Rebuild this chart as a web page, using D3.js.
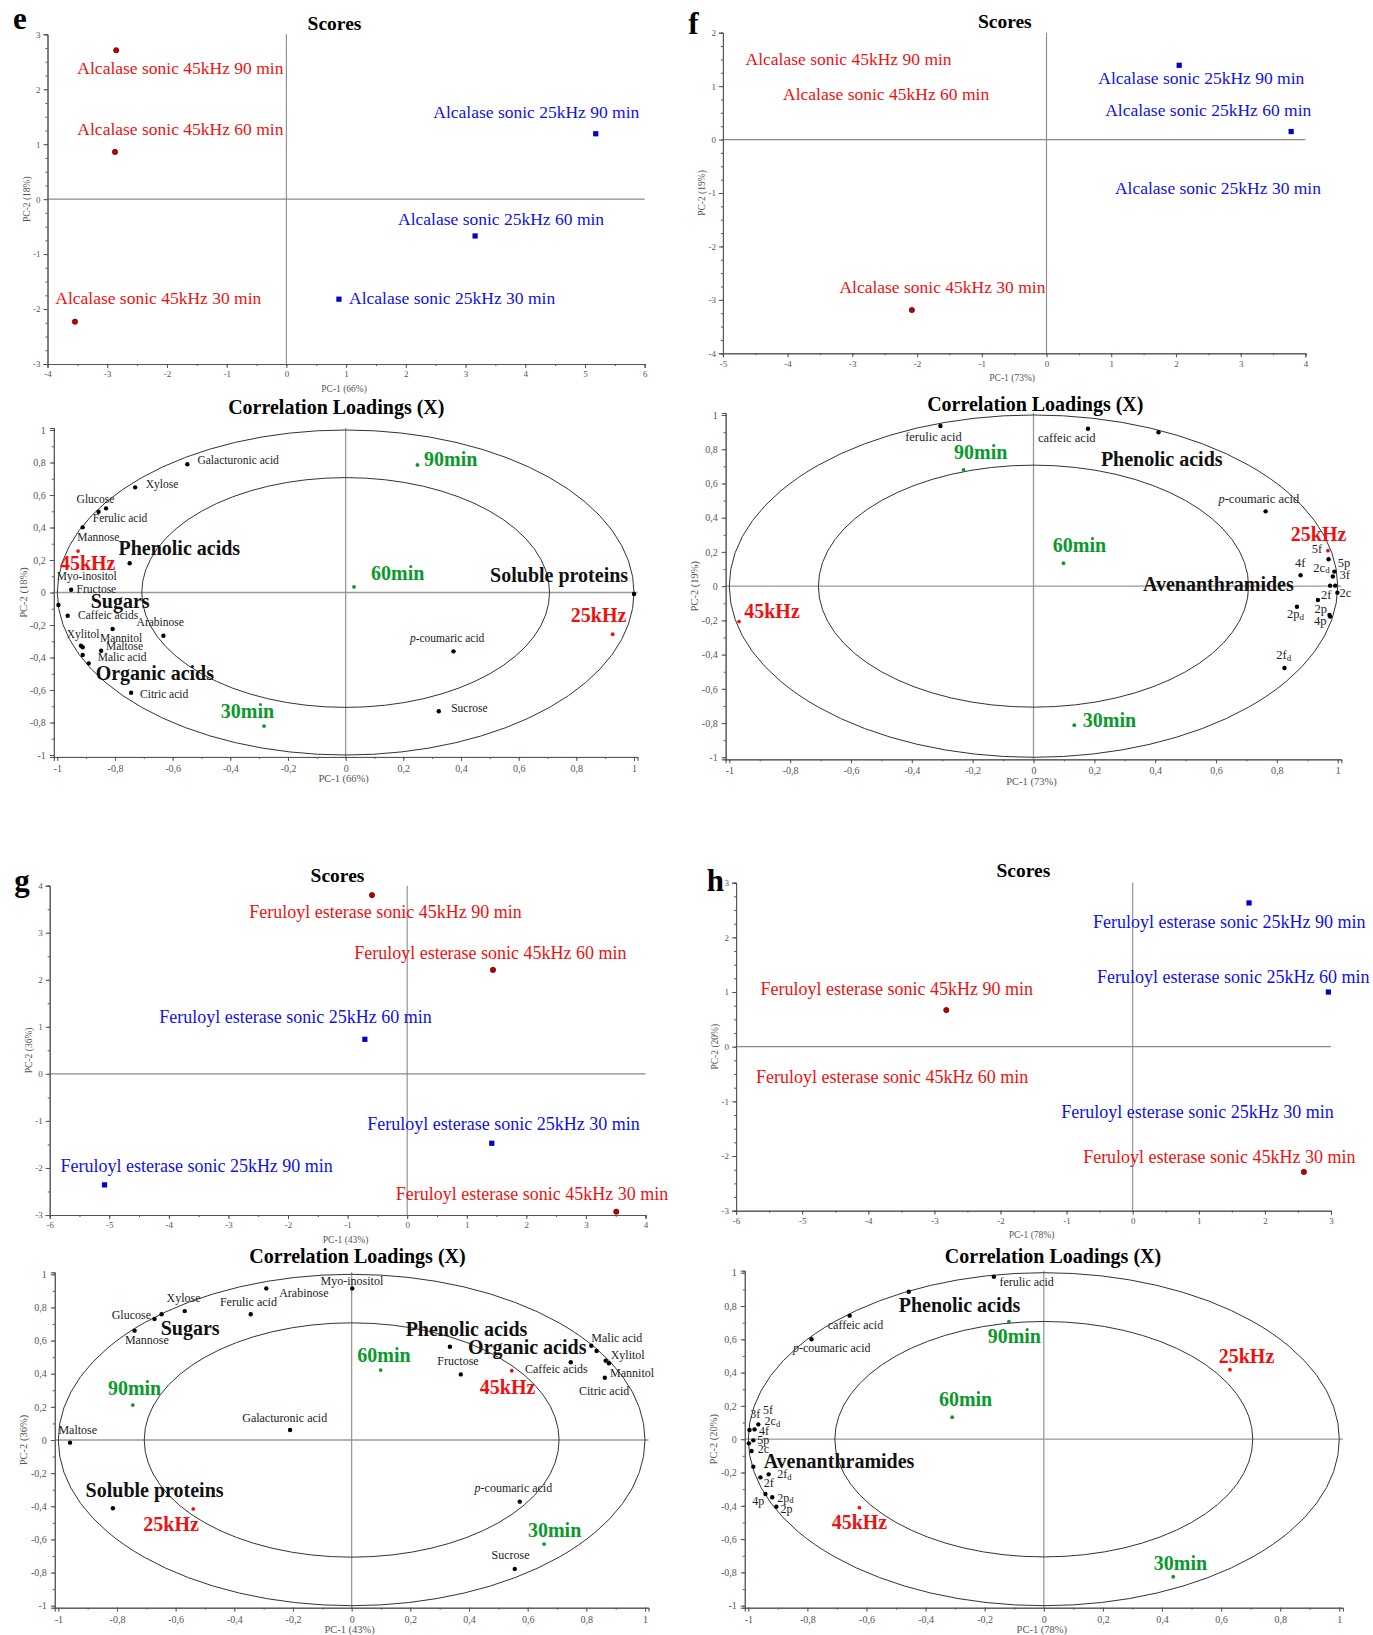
<!DOCTYPE html>
<html lang="en">
<head>
<meta charset="UTF-8">
<title>PCA scores and correlation loadings (e-h)</title>
<script src="https://d3js.org/d3.v7.min.js"></script>
<style>
  body { margin: 0; background: #fff; }
  svg { display: block; font-family: "Liberation Serif", "Times New Roman", serif; }
</style>
</head>
<body>
<svg id="fig" width="1373" height="1635"></svg>
<script>
// ---------- Scores: [sample, PC-1, PC-2] (null = marker not visible) ----------
const scoresE = [
  ["Alcalase sonic 45kHz 90 min", -2.85, 2.71],
  ["Alcalase sonic 45kHz 60 min", -2.87, 0.86],
  ["Alcalase sonic 45kHz 30 min", -3.54, -2.23],
  ["Alcalase sonic 25kHz 90 min", 5.18, 1.19],
  ["Alcalase sonic 25kHz 60 min", 3.16, -0.67],
  ["Alcalase sonic 25kHz 30 min", 0.88, -1.82]
];
const scoresF = [
  ["Alcalase sonic 45kHz 90 min", null, null],
  ["Alcalase sonic 45kHz 60 min", null, null],
  ["Alcalase sonic 45kHz 30 min", -2.08, -3.19],
  ["Alcalase sonic 25kHz 90 min", 2.05, 1.39],
  ["Alcalase sonic 25kHz 60 min", 3.78, 0.15],
  ["Alcalase sonic 25kHz 30 min", null, null]
];
const scoresG = [
  ["Feruloyl esterase sonic 45kHz 90 min", -0.59, 3.80],
  ["Feruloyl esterase sonic 45kHz 60 min", 1.44, 2.21],
  ["Feruloyl esterase sonic 45kHz 30 min", 3.51, -2.93],
  ["Feruloyl esterase sonic 25kHz 60 min", -0.71, 0.735],
  ["Feruloyl esterase sonic 25kHz 30 min", 1.42, -1.475],
  ["Feruloyl esterase sonic 25kHz 90 min", -5.08, -2.36]
];
const scoresH = [
  ["Feruloyl esterase sonic 25kHz 90 min", 1.76, 2.63],
  ["Feruloyl esterase sonic 25kHz 60 min", 2.96, 1.00],
  ["Feruloyl esterase sonic 45kHz 90 min", -2.82, 0.67],
  ["Feruloyl esterase sonic 45kHz 60 min", null, null],
  ["Feruloyl esterase sonic 25kHz 30 min", null, null],
  ["Feruloyl esterase sonic 45kHz 30 min", 2.59, -2.29]
];
// label anchors (data units, same order as the samples)
const scoresELabelAt = [[-3.5, 2.28], [-3.5, 1.17], [-3.87, -1.90], [2.46, 1.47], [1.87, -0.47], [1.05, -1.91]];
const scoresFLabelAt = [[-4.65, 1.39], [-4.07, 0.74], [-3.2, -2.88], [0.80, 1.04], [0.907, 0.44], [1.057, -1.02]];
const scoresGLabelAt = [[-2.65, 3.31], [-0.89, 2.45], [-0.19, -2.68], [-4.16, 1.09], [-0.67, -1.19], [-5.82, -2.09]];
const scoresHLabelAt = [[-0.6, 2.18], [-0.54, 1.16], [-5.63, 0.94], [-5.70, -0.67], [-1.08, -1.31], [-0.75, -2.12]];

// ---------- Correlation loadings: variables [name, PC-1, PC-2] ----------
const loadVarsE = [
  ["Galacturonic acid", -0.549, 0.789], ["Xylose", -0.73, 0.647], ["Glucose", -0.831, 0.518],
  ["Ferulic acid", -0.857, 0.497], ["Mannose", -0.912, 0.401], ["Phenolic acids", -0.749, 0.18],
  ["Fructose", -0.952, 0.017], ["Myo-inositol", -0.996, -0.077], ["Caffeic acids", -0.964, -0.143],
  ["Mannitol", -0.808, -0.225], ["Arabinose", -0.632, -0.266], ["Xylitol", -0.918, -0.327],
  ["Xylitol b", -0.912, -0.337], ["Maltose", -0.848, -0.358], ["Malic acid", -0.912, -0.385],
  ["Organic acids", -0.891, -0.436], ["Citric acid", -0.744, -0.617],
  ["p-coumaric acid", 0.374, -0.362], ["Sucrose", 0.323, -0.731], ["Soluble proteins", 1.0, -0.009]
];
const loadVarsF = [
  ["ferulic acid", -0.306, 0.936], ["caffeic acid", 0.179, 0.92], ["Phenolic acids", 0.411, 0.899],
  ["p-coumaric acid", 0.763, 0.437], ["5f", 0.970, 0.157], ["4f", 0.878, 0.064],
  ["5p", 0.989, 0.085], ["3f", 0.984, 0.056], ["2cd", 0.975, 0.003], ["Avenanthramides", 0.992, 0.003],
  ["2c", 0.999, -0.038], ["2f", 0.935, -0.081], ["2pd", 0.866, -0.12], ["2p", 0.973, -0.168],
  ["4p", 0.975, -0.178], ["2fd", 0.825, -0.478]
];
const loadVarsG = [
  ["Myo-inositol", 0.002, 0.915], ["Arabinose", -0.291, 0.915], ["Ferulic acid", -0.344, 0.759],
  ["Xylose", -0.569, 0.778], ["Glucose", -0.648, 0.759], ["Sugars", -0.672, 0.73],
  ["Mannose", -0.74, 0.66], ["Maltose", -0.96, -0.016], ["Soluble proteins", -0.814, -0.412],
  ["Galacturonic acid", -0.21, 0.06], ["Phenolic acids", 0.335, 0.563], ["Fructose", 0.372, 0.396],
  ["Caffeic acids", 0.747, 0.469], ["Malic acid", 0.817, 0.569], ["Organic acids", 0.835, 0.537],
  ["Xylitol", 0.866, 0.479], ["Mannitol", 0.877, 0.463], ["Citric acid", 0.863, 0.376],
  ["p-coumaric acid", 0.573, -0.372], ["Sucrose", 0.556, -0.778]
];
const loadVarsH = [
  ["ferulic acid", -0.169, 0.976], ["Phenolic acids", -0.457, 0.886], ["caffeic acid", -0.657, 0.742],
  ["p-coumaric acid", -0.786, 0.6], ["2cd", -0.966, 0.089], ["4f", -0.979, 0.059],
  ["3f", -0.996, 0.055], ["5p", -0.983, -0.007], ["5f", -0.998, -0.025], ["2c", -0.989, -0.071],
  ["Avenanthramides", -0.983, -0.165], ["2fd", -0.931, -0.211], ["2f", -0.959, -0.229],
  ["4p", -0.942, -0.329], ["2pd", -0.919, -0.349], ["2p", -0.905, -0.405]
];
// design variables (frequency / time)
const loadDesignE = [["45kHz", -0.928, 0.255], ["25kHz", 0.926, -0.257], ["30min", -0.283, -0.822], ["60min", 0.029, 0.034], ["90min", 0.249, 0.785]];
const loadDesignF = [["45kHz", -0.968, -0.207], ["25kHz", 0.968, 0.207], ["30min", 0.134, -0.8125], ["60min", 0.0986, 0.134], ["90min", -0.23, 0.679]];
const loadDesignG = [["45kHz", 0.546, 0.418], ["25kHz", -0.54, -0.416], ["30min", 0.656, -0.628], ["60min", 0.099, 0.422], ["90min", -0.746, 0.211]];
const loadDesignH = [["45kHz", -0.624, -0.411], ["25kHz", 0.63, 0.417], ["30min", 0.438, -0.826], ["60min", -0.31, 0.132], ["90min", -0.118, 0.706]];

// text labels on the loadings plots [text, PC-1, PC-2, kind]  (s = small, b = group, d = design)
const loadLabelsE = [
  ["Galacturonic acid", -0.514, 0.79, "s"], ["Xylose", -0.693, 0.641, "s"], ["Glucose", -0.933, 0.553, "s"],
  ["Ferulic acid", -0.877, 0.434, "s"], ["Mannose", -0.931, 0.319, "s"], ["Myo-inositol", -1.002, 0.077, "s"],
  ["Fructose", -0.933, -0.003, "s"], ["Caffeic acids", -0.928, -0.163, "s"], ["Arabinose", -0.725, -0.204, "s"],
  ["Xylitol", -0.967, -0.278, "s"], ["Mannitol", -0.852, -0.302, "s"], ["Maltose", -0.831, -0.354, "s"],
  ["Malic acid", -0.86, -0.422, "s"], ["Citric acid", -0.713, -0.647, "s"], ["p-coumaric acid", 0.223, -0.307, "s"],
  ["Sucrose", 0.366, -0.737, "s"],
  ["Phenolic acids", -0.788, 0.231, "b"], ["Sugars", -0.884, -0.097, "b"], ["Organic acids", -0.867, -0.538, "b"],
  ["Soluble proteins", 0.501, 0.063, "b"],
  ["45kHz", -0.991, 0.138, "d"], ["25kHz", 0.781, -0.18, "d"], ["30min", -0.433, -0.77, "d"],
  ["60min", 0.088, 0.077, "d"], ["90min", 0.272, 0.78, "d"]
];
const loadLabelsF = [
  ["ferulic acid", -0.422, 0.85, "s"], ["caffeic acid", 0.0145, 0.844, "s"], ["p-coumaric acid", 0.608, 0.488, "s"],
  ["5f", 0.915, 0.196, "s"], ["4f", 0.86, 0.114, "s"], ["2c_d", 0.92, 0.085, "s"], ["5p", 1.0, 0.114, "s"],
  ["3f", 1.006, 0.04, "s"], ["2c", 1.006, -0.065, "s"], ["2f", 0.945, -0.077, "s"], ["2p", 0.924, -0.155, "s"],
  ["2p_d", 0.833, -0.188, "s"], ["4p", 0.922, -0.227, "s"], ["2f_d", 0.798, -0.427, "s"],
  ["Phenolic acids", 0.2215, 0.702, "b"], ["Avenanthramides", 0.36, -0.028, "b"],
  ["25kHz", 0.846, 0.264, "d"], ["60min", 0.0636, 0.198, "d"], ["90min", -0.261, 0.741, "d"],
  ["30min", 0.162, -0.824, "d"], ["45kHz", -0.951, -0.184, "d"]
];
const loadLabelsG = [
  ["Myo-inositol", -0.106, 0.935, "s"], ["Arabinose", -0.247, 0.865, "s"], ["Ferulic acid", -0.449, 0.811, "s"],
  ["Xylose", -0.631, 0.831, "s"], ["Glucose", -0.818, 0.73, "s"], ["Mannose", -0.773, 0.579, "s"],
  ["Maltose", -0.9995, 0.034, "s"], ["Galacturonic acid", -0.373, 0.11, "s"], ["Fructose", 0.292, 0.453, "s"],
  ["Caffeic acids", 0.591, 0.406, "s"], ["Malic acid", 0.817, 0.593, "s"], ["Xylitol", 0.883, 0.487, "s"],
  ["Mannitol", 0.881, 0.382, "s"], ["Citric acid", 0.775, 0.272, "s"], ["p-coumaric acid", 0.419, -0.316, "s"],
  ["Sucrose", 0.477, -0.72, "s"],
  ["Sugars", -0.651, 0.634, "b"], ["Soluble proteins", -0.907, -0.346, "b"], ["Phenolic acids", 0.184, 0.628, "b"],
  ["Organic acids", 0.397, 0.517, "b"],
  ["90min", -0.831, 0.272, "d"], ["25kHz", -0.71, -0.547, "d"], ["60min", 0.019, 0.469, "d"],
  ["45kHz", 0.437, 0.276, "d"], ["30min", 0.601, -0.583, "d"]
];
const loadLabelsH = [
  ["ferulic acid", -0.15, 0.922, "s"], ["caffeic acid", -0.731, 0.66, "s"], ["p-coumaric acid", -0.849, 0.522, "s"],
  ["3f", -0.993, 0.125, "s"], ["5f", -0.95, 0.151, "s"], ["2c_d", -0.945, 0.085, "s"], ["4f", -0.964, 0.025, "s"],
  ["5p", -0.97, -0.029, "s"], ["2c", -0.968, -0.085, "s"], ["2f_d", -0.902, -0.235, "s"], ["2f", -0.948, -0.289, "s"],
  ["4p", -0.987, -0.395, "s"], ["2p_d", -0.902, -0.375, "s"], ["2p", -0.891, -0.445, "s"],
  ["Phenolic acids", -0.491, 0.766, "b"], ["Avenanthramides", -0.948, -0.175, "b"],
  ["90min", -0.19, 0.58, "d"], ["60min", -0.355, 0.201, "d"], ["45kHz", -0.718, -0.541, "d"],
  ["25kHz", 0.592, 0.459, "d"], ["30min", 0.372, -0.786, "d"]
];

// ---------- layout ----------
const RED = "#f01010", BLUE = "#1010e8", GREEN = "#0a9a2c";
const svg = d3.select("#fig");
svg.append("rect").attr("width", 1373).attr("height", 1635).attr("fill", "#fff");

const stepTicks = (a, b, s) => d3.range(Math.round(a / s), Math.round(b / s) + 1).map(i => +(i * s).toFixed(3));
const commaFmt = d => d === 0 ? "0" : String(Math.round(d * 10) / 10).replace(".", ",");
const intFmt = d => String(d);

function axes(g, x, y, o) {
  const bx = g.append("g").attr("transform", `translate(0,${y.range()[0]})`);
  bx.append("g").call(d3.axisBottom(x).tickValues(o.xMinor).tickSize(2).tickFormat(""));
  bx.append("g").call(d3.axisBottom(x).tickValues(o.xMajor).tickSize(4).tickPadding(o.pad).tickFormat(o.fmt));
  const ly = g.append("g").attr("transform", `translate(${x.range()[0]},0)`);
  ly.append("g").call(d3.axisLeft(y).tickValues(o.yMinor).tickSize(2).tickFormat(""));
  ly.append("g").call(d3.axisLeft(y).tickValues(o.yMajor).tickSize(4).tickPadding(o.pad).tickFormat(o.fmt));
  g.selectAll(".domain, .tick line").attr("stroke", "#555");
  g.selectAll(".tick text").attr("fill", "#555").attr("font-size", o.tickFont)
    .attr("font-family", '"Liberation Serif", serif');
  const cx = (x.range()[0] + x.range()[1]) / 2, cy = (y.range()[0] + y.range()[1]) / 2;
  g.append("text").attr("x", cx - 2).attr("y", y.range()[0] + o.xLabOff).attr("text-anchor", "middle")
    .attr("font-size", o.labFont).attr("fill", "#555").text(o.xLab);
  g.append("text").attr("transform", `translate(${x.range()[0] - o.yLabOff},${cy}) rotate(-90)`)
    .attr("text-anchor", "middle").attr("dy", "0.35em").attr("font-size", o.labFont).attr("fill", "#555").text(o.yLab);
}

function scoresPanel(p, samples, labelAt) {
  const g = svg.append("g");
  const x = d3.scaleLinear().domain(p.xd).range(p.xr);
  const y = d3.scaleLinear().domain(p.yd).range(p.yr);
  g.append("line").attr("x1", x(p.xd[0])).attr("x2", x(p.xd[1])).attr("y1", y(0)).attr("y2", y(0))
    .attr("stroke", "#8a8a8a").attr("stroke-width", 1.3);
  g.append("line").attr("x1", x(0)).attr("x2", x(0)).attr("y1", y(p.yd[0])).attr("y2", y(p.yd[1]))
    .attr("stroke", "#8a8a8a").attr("stroke-width", 1.1);
  axes(g, x, y, {
    xMajor: stepTicks(p.xd[0], p.xd[1], 1), xMinor: stepTicks(p.xd[0], p.xd[1], 0.5),
    yMajor: stepTicks(p.yd[0], p.yd[1], 1), yMinor: stepTicks(p.yd[0], p.yd[1], p.yMinor),
    fmt: intFmt, pad: 3, tickFont: 9, labFont: 9.5, xLab: p.xLab, yLab: p.yLab, xLabOff: 27.5, yLabOff: 21
  });
  const visible = samples.filter(d => d[1] !== null);
  g.selectAll("circle.s45").data(visible.filter(d => d[0].includes("45kHz"))).join("circle")
    .attr("cx", d => x(d[1])).attr("cy", d => y(d[2])).attr("r", 2.6)
    .attr("fill", "#c40000").attr("stroke", "#5a0000").attr("stroke-width", 0.8);
  g.selectAll("rect.s25").data(visible.filter(d => d[0].includes("25kHz"))).join("rect")
    .attr("x", d => x(d[1]) - 2.6).attr("y", d => y(d[2]) - 2.6).attr("width", 5.2).attr("height", 5.2)
    .attr("fill", "#0000d0");
  g.selectAll("text.lab").data(samples).join("text")
    .attr("x", (d, i) => x(labelAt[i][0])).attr("y", (d, i) => y(labelAt[i][1]))
    .attr("font-size", p.font).attr("fill", d => d[0].includes("45kHz") ? RED : BLUE).text(d => d[0]);
  g.append("text").attr("x", p.title[0]).attr("y", p.title[1]).attr("text-anchor", "middle")
    .attr("font-size", 19.5).attr("font-weight", "bold").text("Scores");
  g.append("text").attr("x", p.letter[0]).attr("y", p.letter[1]).attr("text-anchor", "middle")
    .attr("font-size", 31).attr("font-weight", "bold").text(p.id);
}

function richText(sel, txt) {
  if (txt.startsWith("p-")) {
    sel.append("tspan").attr("font-style", "italic").text("p");
    sel.append("tspan").text(txt.slice(1));
  } else if (txt.includes("_")) {
    const [a, b] = txt.split("_");
    sel.append("tspan").text(a);
    sel.append("tspan").attr("font-size", "0.72em").attr("dy", 1.5).text(b);
  } else sel.text(txt);
}

function loadingsPanel(p, vars, design, labels) {
  const g = svg.append("g");
  const e = 0.012, kx = (p.x[1] - p.x[0]) / 2, ky = (p.y[1] - p.y[0]) / 2;
  const x = d3.scaleLinear().domain([-1 - e, 1 + e]).range([p.x[0] - e * kx, p.x[1] + e * kx]);
  const y = d3.scaleLinear().domain([-1 - e, 1 + e]).range([p.y[1] + e * ky, p.y[0] - e * ky]);
  g.append("line").attr("x1", x(-1 - e)).attr("x2", x(1 + e)).attr("y1", y(0)).attr("y2", y(0))
    .attr("stroke", "#999").attr("stroke-width", 1.3);
  g.append("line").attr("x1", x(0)).attr("x2", x(0)).attr("y1", y(-1 - e)).attr("y2", y(1 + e))
    .attr("stroke", "#999").attr("stroke-width", 1.3);
  [1, Math.SQRT1_2].forEach(r => {
    g.append("ellipse").attr("cx", x(0)).attr("cy", y(0)).attr("rx", x(r) - x(0)).attr("ry", y(0) - y(r))
      .attr("fill", "none").attr("stroke", "#333").attr("stroke-width", 1);
  });
  axes(g, x, y, {
    xMajor: stepTicks(-1, 1, 0.2), xMinor: stepTicks(-1, 1, 0.1),
    yMajor: stepTicks(-1, 1, 0.2), yMinor: stepTicks(-1, 1, 0.1),
    fmt: commaFmt, pad: 4, tickFont: 10, labFont: 10.5, xLab: p.xLab, yLab: p.yLab, xLabOff: 25.5, yLabOff: 31
  });
  g.selectAll("circle.v").data(vars).join("circle")
    .attr("cx", d => x(d[1])).attr("cy", d => y(d[2])).attr("r", 2.2).attr("fill", "#000");
  g.selectAll("circle.dz").data(design).join("circle")
    .attr("cx", d => x(d[1])).attr("cy", d => y(d[2])).attr("r", 1.9)
    .attr("fill", d => d[0].includes("kHz") ? RED : GREEN);
  labels.forEach(l => {
    const t = g.append("text").attr("x", x(l[1])).attr("y", y(l[2]));
    if (l[3] === "s") {
      t.attr("font-size", p.small).attr("fill", "#222");
    } else if (l[3] === "b") {
      t.attr("font-size", 20).attr("font-weight", "bold").attr("fill", "#111");
    } else {
      t.attr("font-size", 20).attr("font-weight", "bold").attr("fill", l[0].includes("kHz") ? RED : GREEN);
    }
    richText(t, l[0]);
  });
  g.append("text").attr("x", p.title[0]).attr("y", p.title[1]).attr("text-anchor", "middle")
    .attr("font-size", 20).attr("font-weight", "bold").text("Correlation Loadings (X)");
}

scoresPanel({ id: "e", xd: [-4, 6], xr: [47.5, 644.7], yd: [-3, 3], yr: [364, 34.3], yMinor: 0.25,
  title: [334.5, 29.5], letter: [19.8, 29], xLab: "PC-1 (66%)", yLab: "PC-2 (18%)", font: 17.5 }, scoresE, scoresELabelAt);
scoresPanel({ id: "f", xd: [-5, 4], xr: [722.9, 1305.4], yd: [-4, 2], yr: [353.3, 32.7], yMinor: 0.25,
  title: [1004.8, 28], letter: [693.3, 34], xLab: "PC-1 (73%)", yLab: "PC-2 (19%)", font: 17.5 }, scoresF, scoresFLabelAt);
scoresPanel({ id: "g", xd: [-6, 4], xr: [49.7, 645.5], yd: [-3, 4], yr: [1215, 885.7], yMinor: 0.5,
  title: [337.5, 881.7], letter: [22, 891], xLab: "PC-1 (43%)", yLab: "PC-2 (36%)", font: 18 }, scoresG, scoresGLabelAt);
scoresPanel({ id: "h", xd: [-6, 3], xr: [736.1, 1331], yd: [-3, 3], yr: [1210.7, 882.7], yMinor: 0.25,
  title: [1023.4, 877.3], letter: [715.4, 890.7], xLab: "PC-1 (78%)", yLab: "PC-2 (20%)", font: 18 }, scoresH, scoresHLabelAt);

loadingsPanel({ x: [57.3, 634], y: [430, 755], title: [336.3, 414.3], small: 11.5,
  xLab: "PC-1 (66%)", yLab: "PC-2 (18%)" }, loadVarsE, loadDesignE, loadLabelsE);
loadingsPanel({ x: [729.3, 1337.7], y: [415, 757.3], title: [1035.3, 411], small: 12.5,
  xLab: "PC-1 (73%)", yLab: "PC-2 (19%)" }, loadVarsF, loadDesignF, loadLabelsF);
loadingsPanel({ x: [58.3, 645], y: [1274.3, 1605.7], title: [357.5, 1262.7], small: 12,
  xLab: "PC-1 (43%)", yLab: "PC-2 (36%)" }, loadVarsG, loadDesignG, loadLabelsG);
loadingsPanel({ x: [748.3, 1339.3], y: [1272.7, 1605.7], title: [1053, 1263.3], small: 12,
  xLab: "PC-1 (78%)", yLab: "PC-2 (20%)" }, loadVarsH, loadDesignH, loadLabelsH);
</script>
</body>
</html>
